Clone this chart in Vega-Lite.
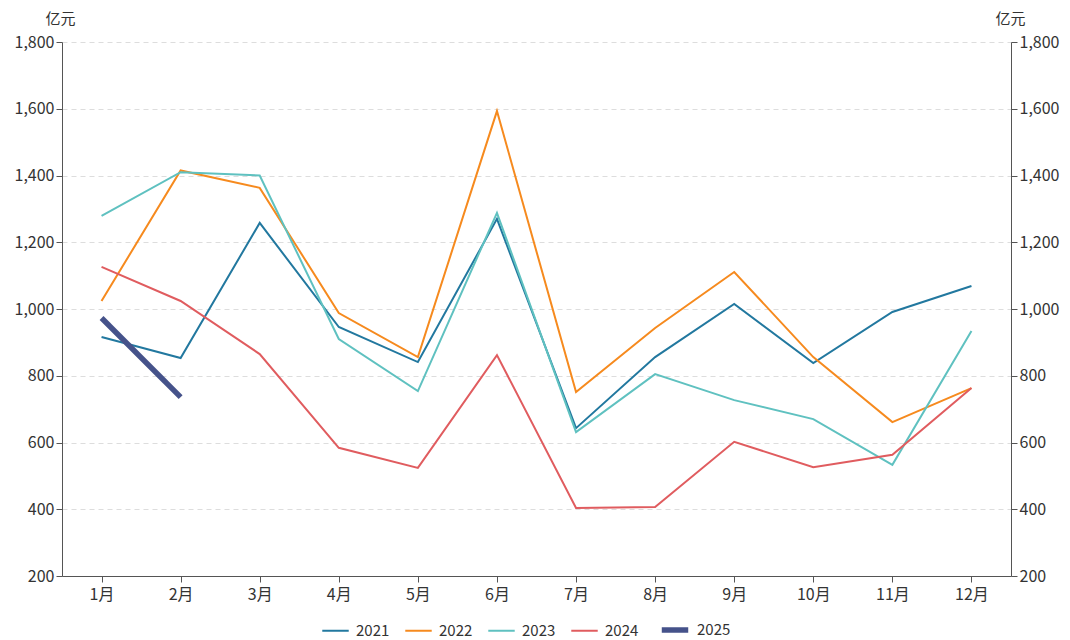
{
  "$schema": "https://vega.github.io/schema/vega-lite/v6.json",
  "width": 949,
  "height": 534,
  "autosize": {"type": "none"},
  "padding": {"left": 62, "top": 42, "right": 59, "bottom": 64},
  "background": "white",
  "config": {
    "font": "Noto Sans CJK SC",
    "view": {"stroke": null}
  },
  "data": {"values": [
    {"m": "1月", "y": "2021", "v": 916}, {"m": "2月", "y": "2021", "v": 853}, {"m": "3月", "y": "2021", "v": 1258}, {"m": "4月", "y": "2021", "v": 946}, {"m": "5月", "y": "2021", "v": 841}, {"m": "6月", "y": "2021", "v": 1270}, {"m": "7月", "y": "2021", "v": 643}, {"m": "8月", "y": "2021", "v": 856}, {"m": "9月", "y": "2021", "v": 1015}, {"m": "10月", "y": "2021", "v": 838}, {"m": "11月", "y": "2021", "v": 991}, {"m": "12月", "y": "2021", "v": 1069},
    {"m": "1月", "y": "2022", "v": 1024}, {"m": "2月", "y": "2022", "v": 1415}, {"m": "3月", "y": "2022", "v": 1363}, {"m": "4月", "y": "2022", "v": 988}, {"m": "5月", "y": "2022", "v": 856}, {"m": "6月", "y": "2022", "v": 1593}, {"m": "7月", "y": "2022", "v": 751}, {"m": "8月", "y": "2022", "v": 943}, {"m": "9月", "y": "2022", "v": 1111}, {"m": "10月", "y": "2022", "v": 856}, {"m": "11月", "y": "2022", "v": 661}, {"m": "12月", "y": "2022", "v": 763},
    {"m": "1月", "y": "2023", "v": 1279}, {"m": "2月", "y": "2023", "v": 1410}, {"m": "3月", "y": "2023", "v": 1400}, {"m": "4月", "y": "2023", "v": 910}, {"m": "5月", "y": "2023", "v": 754}, {"m": "6月", "y": "2023", "v": 1288}, {"m": "7月", "y": "2023", "v": 631}, {"m": "8月", "y": "2023", "v": 805}, {"m": "9月", "y": "2023", "v": 727}, {"m": "10月", "y": "2023", "v": 670}, {"m": "11月", "y": "2023", "v": 533}, {"m": "12月", "y": "2023", "v": 934},
    {"m": "1月", "y": "2024", "v": 1126}, {"m": "2月", "y": "2024", "v": 1024}, {"m": "3月", "y": "2024", "v": 865}, {"m": "4月", "y": "2024", "v": 584}, {"m": "5月", "y": "2024", "v": 524}, {"m": "6月", "y": "2024", "v": 862}, {"m": "7月", "y": "2024", "v": 404}, {"m": "8月", "y": "2024", "v": 407}, {"m": "9月", "y": "2024", "v": 602}, {"m": "10月", "y": "2024", "v": 526}, {"m": "11月", "y": "2024", "v": 563}, {"m": "12月", "y": "2024", "v": 763},
    {"m": "1月", "y": "2025", "v": 973}, {"m": "2月", "y": "2025", "v": 736}
  ]},
  "encoding": {
    "x": {"field": "m", "type": "ordinal", "sort": ["1月","2月","3月","4月","5月","6月","7月","8月","9月","10月","11月","12月"], "scale": {"type": "point", "padding": 0.5}, "axis": {"title": null, "labelAngle": 0, "grid": false, "labelPadding": 4, "tickSize": 6, "labelFontSize": 16, "labelColor": "#333333", "domainColor": "#555555", "tickColor": "#555555"}}
  },
  "layer": [
    {
      "mark": {"type": "line", "strokeCap": "butt"},
      "encoding": {
        "y": {"field": "v", "type": "quantitative", "scale": {"domain": [200, 1800]}, "axis": {"values": [200,400,600,800,1000,1200,1400,1600,1800], "format": ",.0f", "title": "亿元", "titleAngle": 0, "titleAlign": "center", "titleBaseline": "middle", "titleX": -2, "titleY": -24, "titleFontSize": 15, "titleFontWeight": "normal", "titleColor": "#333333", "labelFontSize": 16, "labelColor": "#333333", "domainColor": "#555555", "tickColor": "#555555", "grid": true, "gridColor": "#dddddd", "gridDash": [5, 4], "tickSize": 6}},
        "color": {"field": "y", "type": "ordinal", "title": null, "scale": {"type": "ordinal", "domain": ["2021","2022","2023","2024","2025"], "range": ["#22789f", "#f68a1e", "#5fc1c0", "#e05c5f", "#45528a"]}, "legend": {"orient": "none", "legendX": 259, "legendY": 572, "direction": "horizontal", "symbolType": "stroke", "symbolSize": 700, "labelFontSize": 15, "labelColor": "#333333", "labelOffset": 6, "columnPadding": 11}},
        "strokeWidth": {"field": "y", "type": "ordinal", "scale": {"type": "ordinal", "domain": ["2021","2022","2023","2024","2025"], "range": [2, 2, 2, 2, 5.5]}}
      }
    },
    {
      "mark": {"type": "line", "opacity": 0},
      "encoding": {
        "y": {"field": "v", "type": "quantitative", "scale": {"domain": [200, 1800]}, "axis": {"orient": "right", "values": [200,400,600,800,1000,1200,1400,1600,1800], "format": ",.0f", "title": "亿元", "titleAngle": 0, "titleAlign": "center", "titleBaseline": "middle", "titleX": -1, "titleY": -24, "titleFontSize": 15, "titleFontWeight": "normal", "titleColor": "#333333", "labelFontSize": 16, "labelColor": "#333333", "domainColor": "#555555", "tickColor": "#555555", "grid": false, "tickSize": 6}},
        "detail": {"field": "y"}
      }
    }
  ],
  "resolve": {"scale": {"y": "independent"}}
}
